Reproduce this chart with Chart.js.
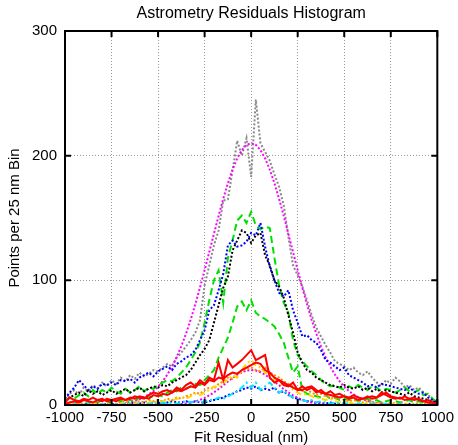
<!DOCTYPE html>
<html>
<head>
<meta charset="utf-8">
<title>Astrometry Residuals Histogram</title>
<script src="https://cdn.jsdelivr.net/npm/chart.js@4/dist/chart.umd.min.js"></script>
<style>
  html, body { margin: 0; padding: 0; background: #fff; }
  #wrap { width: 458px; height: 445px; }
</style>
</head>
<body>
<div id="wrap"><canvas id="chart" width="458" height="445"></canvas></div>
<script>
// 25 nm bins, -1000 .. 1000 nm
const bins = [
  -1000, -975, -950, -925, -900, -875, -850, -825, -800, -775,
  -750, -725, -700, -675, -650, -625, -600, -575, -550, -525,
  -500, -475, -450, -425, -400, -375, -350, -325, -300, -275,
  -250, -225, -200, -175, -150, -125, -100, -75, -50, -25,
  0,
  25, 50, 75, 100, 125, 150, 175, 200, 225, 250,
  275, 300, 325, 350, 375, 400, 425, 450, 475, 500,
  525, 550, 575, 600, 625, 650, 675, 700, 725, 750,
  775, 800, 825, 850, 875, 900, 925, 950, 975, 1000
];

const allPoints = [
  4, 9, 12, 8, 14, 11, 16, 13, 18, 15,
  20, 17, 22, 19, 24, 21, 26, 23, 25, 28,
  27, 30, 33, 31, 38, 42, 47, 52, 58, 68,
  96, 112, 128, 140, 164, 165, 188, 212, 200, 214,
  183,
  245, 210, 203, 196, 185, 175, 160, 135, 112, 104,
  95, 84, 72, 62, 55, 48, 42, 35, 33, 31,
  28, 30, 26, 24, 27, 22, 18, 15, 20, 17,
  22, 19, 14, 16, 12, 14, 10, 8, 5, 2
];

const fitAll = [
  null, null, null, null, null, null, null, null, null, null,
  0.5, 0.8, 1.1, 1.6, 2.4, 3.3, 4.6, 6.3, 8.5, 11.2,
  14.8, 19.1, 24.4, 30.9, 38.4, 47.2, 57.2, 68.4, 80.8, 94.1,
  108.2, 122.7, 137.3, 151.7, 165.4, 177.9, 188.8, 197.8, 204.5, 208.6,
  210,
  208.6, 204.5, 197.8, 188.8, 177.9, 165.4, 151.7, 137.3, 122.7, 108.2,
  94.1, 80.8, 68.4, 57.2, 47.2, 38.4, 30.9, 24.4, 19.1, 14.8,
  11.2, 8.5, 6.3, 4.6, 3.3, 2.4, 1.6, 1.1, 0.8, 0.5,
  null, null, null, null, null, null, null, null, null, null
];

const fitSmall = [
  null, null, null, null, null, null, null, null, null, null,
  null, null, null, null, null, null, null, null, null, null,
  null, null, null, null, 0.5, 0.8, 1.2, 1.9, 2.8, 4.1,
  5.7, 7.7, 10.1, 12.8, 15.8, 18.8, 21.7, 24.3, 26.3, 27.6,
  28,
  27.6, 26.3, 24.3, 21.7, 18.8, 15.8, 12.8, 10.1, 7.7, 5.7,
  4.1, 2.8, 1.9, 1.2, 0.8, 0.5, null, null, null, null,
  null, null, null, null, null, null, null, null, null, null,
  null, null, null, null, null, null, null, null, null, null
];

const greenHigh = [
  3, 6, 5, 8, 10, 7, 12, 9, 12, 10,
  14, 11, 9, 13, 10, 12, 15, 11, 14, 13,
  16, 18, 20, 19, 22, 26, 30, 36, 42, 50,
  66, 84, 100, 108, 82, 118, 132, 148, 152, 146,
  155,
  144, 141, 143, 142, 118, 96, 82, 74, 52, 40,
  35, 31, 27, 24, 20, 17, 15, 16, 14, 12,
  15, 13, 16, 14, 12, 15, 14, 11, 13, 12,
  10, 12, 14, 11, 10, 12, 8, 9, 5, 2
];

const greenLow = [
  0, 2, 1, 3, 2, 1, 3, 2, 4, 3,
  2, 4, 3, 5, 4, 3, 6, 5, 7, 6,
  8, 7, 10, 12, 11, 14, 13, 15, 17, 16,
  20, 24, 28, 38, 46, 54, 66, 79, 83, 76,
  84,
  74, 71, 69, 66, 63, 57, 50, 38, 26, 31,
  12, 9, 8, 7, 6, 8, 5, 6, 4, 5,
  4, 5, 3, 4, 5, 3, 4, 2, 3, 4,
  3, 2, 3, 4, 2, 3, 2, 1, 1, 0
];

const blackSet = [
  3, 6, 8, 10, 7, 12, 9, 11, 8, 10,
  12, 9, 11, 13, 10, 12, 14, 11, 13, 15,
  14, 16, 15, 18, 20, 22, 24, 28, 34, 40,
  45, 52, 66, 80, 94, 103, 124, 132, 140, 138,
  130,
  136, 138, 120, 112, 100, 95, 86, 72, 58, 42,
  34, 28, 26, 22, 20, 18, 16, 15, 14, 16,
  14, 13, 15, 12, 14, 11, 13, 10, 12, 11,
  10, 9, 8, 10, 7, 6, 5, 4, 3, 1
];

const blueSet = [
  5, 10, 14, 20, 16, 12, 15, 13, 17, 16,
  18, 16, 20, 19, 21, 18, 22, 24, 26, 23,
  27, 29, 31, 28, 33, 35, 38, 40, 44, 52,
  60, 76, 80, 92, 105, 128, 132, 127, 128, 131,
  138,
  136, 146, 127, 111, 100, 90, 87, 92, 76, 66,
  55, 56, 52, 50, 44, 36, 34, 31, 28, 30,
  24, 22, 20, 18, 15, 16, 14, 17, 16, 15,
  14, 13, 12, 14, 11, 9, 10, 6, 4, 2
];

const blueSmall = [
  0, 1, 0, 1, 1, 0, 1, 1, 0, 1,
  1, 0, 1, 1, 2, 1, 1, 2, 1, 2,
  2, 1, 2, 3, 2, 2, 3, 2, 3, 2,
  2, 3, 4, 5, 6, 8, 9, 11, 12, 14,
  13,
  15, 12, 13, 12, 14, 10, 11, 8, 6, 5,
  4, 3, 3, 2, 2, 1, 2, 1, 1, 1,
  1, 0, 1, 1, 0, 1, 0, 1, 0, 0,
  1, 0, 0, 1, 0, 0, 0, 1, 0, 0
];

const redHigh = [
  2, 6, 4, 3, 5, 4, 6, 4, 5, 3,
  4, 5, 6, 4, 5, 7, 6, 5, 8, 10,
  9, 11, 12, 10, 14, 12, 16, 18, 15, 20,
  17, 22, 20, 34, 20, 36, 30, 33, 36, 40,
  44,
  36, 38, 40, 22, 18, 20, 16, 15, 18, 12,
  15, 12, 14, 10, 12, 9, 11, 8, 9, 7,
  6, 8, 6, 5, 7, 5, 6, 10, 8, 6,
  5, 6, 4, 5, 6, 4, 3, 4, 2, 1
];

const redLow = [
  1, 2, 3, 2, 4, 3, 2, 4, 3, 5,
  4, 3, 5, 4, 6, 5, 7, 6, 5, 8,
  7, 9, 8, 10, 12, 11, 13, 15, 14, 18,
  16, 20, 19, 22, 21, 24, 26, 25, 28, 30,
  32,
  34, 33, 28, 26, 22, 20, 18, 16, 14, 12,
  12, 14, 15, 12, 10, 9, 8, 7, 6, 7,
  5, 6, 4, 5, 6, 7, 6, 8, 10, 7,
  6, 5, 7, 5, 4, 5, 3, 2, 2, 1
];

const orangeSet = [
  1, 0, 2, 1, 0, 1, 2, 1, 0, 1,
  2, 1, 2, 3, 1, 2, 3, 2, 4, 3,
  4, 3, 5, 4, 6, 5, 7, 8, 10, 9,
  12, 14, 13, 17, 19, 22, 21, 25, 27, 29,
  30,
  28, 27, 30, 26, 24, 22, 19, 17, 15, 13,
  11, 12, 10, 8, 9, 7, 6, 5, 6, 4,
  3, 4, 3, 2, 3, 2, 1, 2, 1, 2,
  1, 2, 1, 0, 1, 1, 0, 1, 0, 0
];

const yellowSet = [
  0, 1, 0, 1, 0, 0, 1, 0, 1, 0,
  1, 0, 1, 2, 1, 1, 2, 1, 2, 3,
  2, 3, 4, 3, 5, 6, 5, 7, 9, 8,
  10, 12, 15, 14, 18, 20, 24, 22, 28, 33,
  36,
  32, 30, 26, 24, 20, 18, 15, 16, 12, 10,
  8, 9, 7, 6, 5, 4, 5, 3, 2, 3,
  2, 1, 2, 1, 1, 2, 1, 0, 1, 0,
  1, 0, 0, 1, 0, 0, 1, 0, 0, 0
];

const cyanSet = [
  0, 0, 1, 0, 0, 1, 0, 0, 1, 0,
  0, 1, 0, 1, 1, 0, 1, 0, 1, 1,
  1, 2, 1, 2, 1, 2, 3, 2, 3, 2,
  3, 4, 4, 6, 5, 7, 9, 11, 14, 18,
  14,
  18, 12, 15, 18, 14, 10, 12, 8, 6, 5,
  4, 3, 4, 2, 3, 2, 1, 2, 1, 1,
  1, 0, 1, 1, 0, 1, 0, 0, 1, 0,
  0, 1, 0, 0, 0, 1, 0, 0, 0, 0
];

const xTicks = [-1000, -750, -500, -250, 0, 250, 500, 750, 1000];
const yTicks = [0, 100, 200, 300];

const FONT = "'Liberation Sans', Arial, Helvetica, sans-serif";
const DOT = [2, 2];
const DASH = [7, 4];
const DASHDOT = [6, 3, 2, 3];

function series(vals, color, dash, width) {
  return {
    data: bins.map((x, i) => ({ x: x, y: vals[i] })),
    borderColor: color,
    borderDash: dash,
    borderWidth: width || 2,
    pointRadius: 0,
    tension: 0,
    fill: false,
    spanGaps: false
  };
}

// first entries end up on top
const datasets = [
  series(redHigh, '#ff0000', [], 2),
  series(redLow, '#ff0000', [], 2),
  series(cyanSet, '#00e8ff', DASHDOT),
  series(yellowSet, '#ffd800', DASHDOT),
  series(orangeSet, '#ff8c00', DOT),
  series(fitSmall, '#ee00ee', DOT),
  series(blueSmall, '#0000ff', DOT),
  series(greenLow, '#00e000', DASH),
  series(blackSet, '#000000', DOT),
  series(blueSet, '#0000ff', DOT),
  series(greenHigh, '#00e000', DASH),
  series(fitAll, '#ff00ff', DOT),
  series(allPoints, '#888888', DOT)
];

// border box with inward major ticks on all four sides
const frame = {
  id: 'frame',
  afterDatasetsDraw(chart) {
    const { ctx, chartArea: a, scales } = chart;
    const len = 6;
    ctx.save();
    ctx.strokeStyle = '#000';
    ctx.lineWidth = 2;
    ctx.setLineDash([]);
    ctx.beginPath();
    xTicks.forEach(v => {
      const px = scales.x.getPixelForValue(v);
      ctx.moveTo(px, a.bottom); ctx.lineTo(px, a.bottom - len);
      ctx.moveTo(px, a.top); ctx.lineTo(px, a.top + len);
    });
    yTicks.forEach(v => {
      const py = scales.y.getPixelForValue(v);
      ctx.moveTo(a.left, py); ctx.lineTo(a.left + len, py);
      ctx.moveTo(a.right, py); ctx.lineTo(a.right - len, py);
    });
    ctx.stroke();
    ctx.strokeRect(a.left, a.top, a.right - a.left, a.bottom - a.top);
    ctx.restore();
  }
};

new Chart(document.getElementById('chart'), {
  type: 'line',
  data: { datasets },
  options: {
    responsive: false,
    animation: false,
    events: [],
    layout: { padding: { left: 0, right: 19, top: 0, bottom: 0 } },
    plugins: {
      legend: { display: false },
      tooltip: { enabled: false },
      title: {
        display: true,
        text: 'Astrometry Residuals Histogram',
        color: '#000',
        fullSize: false,
        font: { family: FONT, size: 16, weight: 'normal', lineHeight: 1.2 },
        padding: { top: 4, bottom: 7.8 }
      }
    },
    scales: {
      x: {
        type: 'linear',
        min: -1000,
        max: 1000,
        afterFit: s => { s.height = 40; },
        afterBuildTicks: s => { s.ticks = xTicks.map(v => ({ value: v })); },
        ticks: {
          color: '#000',
          autoSkip: false,
          maxRotation: 0,
          padding: 4,
          font: { family: FONT, size: 15 },
          callback: v => String(v)
        },
        grid: { color: '#999', lineWidth: 1, drawTicks: false },
        border: { display: false, dash: [1, 2] },
        title: {
          display: true,
          text: 'Fit Residual (nm)',
          color: '#000',
          font: { family: FONT, size: 15, lineHeight: 1 },
          padding: { top: 0, bottom: 0 }
        }
      },
      y: {
        type: 'linear',
        min: 0,
        max: 300,
        afterFit: s => { s.width = 65; },
        afterBuildTicks: s => { s.ticks = yTicks.map(v => ({ value: v })); },
        ticks: {
          color: '#000',
          padding: 8,
          font: { family: FONT, size: 15 },
          callback: v => String(v)
        },
        grid: { color: '#999', lineWidth: 1, drawTicks: false },
        border: { display: false, dash: [1, 2] },
        title: {
          display: true,
          text: 'Points per 25 nm Bin',
          color: '#000',
          font: { family: FONT, size: 15, lineHeight: 1 },
          padding: { top: 7, bottom: 0 }
        }
      }
    }
  },
  plugins: [frame]
});
</script>
</body>
</html>
